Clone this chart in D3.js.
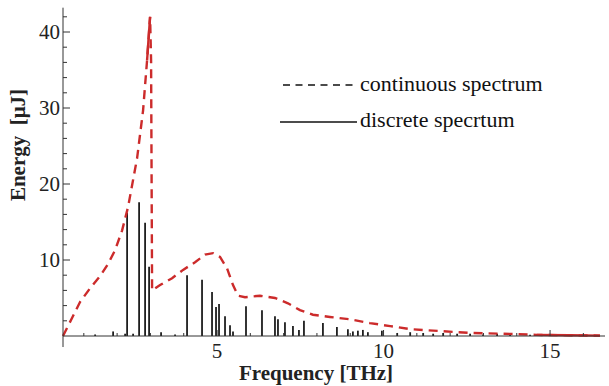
<!DOCTYPE html>
<html><head><meta charset="utf-8">
<script src="https://cdn.jsdelivr.net/npm/d3@7"></script>
<style>html,body{margin:0;padding:0;background:#fff;}svg{display:block;}</style>
</head><body>
<svg id="c" width="609" height="386"></svg>
<script>
// continuous spectrum (frequency THz, energy µJ)
const contFreq = [0.375,0.65,0.89,1.19,1.49,1.73,1.94,2.15,2.33,2.60,2.78,2.90,2.99,3.02,3.05,3.29,3.65,3.98,4.34,4.64,4.88,5.09,5.30,5.48,5.63,5.84,6.29,6.74,7.13,7.49,7.88,8.39,8.99,9.59,10.2,10.8,11.7,12.6,13.6,14.6,15.6,16.5];
const contEnergy = [0,2.4,4.5,6.3,7.9,9.5,11.3,13.9,17.0,23.4,29.7,36.3,42.0,36.3,6.0,6.7,7.6,8.7,9.7,10.7,10.9,10.4,8.9,6.7,5.3,5.1,5.3,5.0,4.3,3.4,2.8,2.5,2.2,1.7,1.3,0.9,0.65,0.4,0.3,0.15,0.1,0.05];
// discrete spectrum
const discFreq = [1.34,1.88,2.24,2.30,2.48,2.66,2.84,2.96,3.32,3.74,4.10,4.55,4.85,4.97,5.06,5.24,5.39,5.48,5.87,6.35,6.74,6.83,7.04,7.28,7.46,7.61,8.18,8.60,8.93,9.08,9.23,9.38,9.53,9.95,10.41,10.80,11.19,11.49,11.79,12.21,12.60,12.99,13.41,13.80,14.40,15.00,15.90];
const discEnergy = [0.2,0.6,0.3,16.2,0.3,17.6,14.9,9.1,0.5,0.2,8.0,7.4,5.8,3.8,4.2,2.6,1.4,0.6,3.9,3.4,2.6,2.2,1.8,1.3,0.8,2.0,1.7,1.2,0.9,0.6,0.7,0.8,0.5,0.7,0.4,0.5,0.4,0.3,0.4,0.3,0.3,0.2,0.3,0.2,0.15,0.2,0.1];
const xTicks = [5,10,15];
const yTicks = [10,20,30,40];
const legendLabels = ["continuous spectrum","discrete specrtum"];
const xLabel = "Frequency [THz]";
const yLabel = "Energy\u00a0 [\u03bcJ]";

const svg = d3.select("#c");
const x = d3.scaleLinear().domain([0.375,16.65]).range([63,605]);
const y = d3.scaleLinear().domain([0,40]).range([336,32]);
const red = "#cc2b2b";
const serif = "'Liberation Serif','Times New Roman',serif";

// discrete bars
svg.append("g").selectAll("line").data(discFreq).join("line")
  .attr("x1",d=>x(d)).attr("x2",d=>x(d))
  .attr("y1",y(0)).attr("y2",(d,i)=>y(discEnergy[i]))
  .attr("stroke","#1e1e1e").attr("stroke-width",1.8);

// continuous curve
const pts = contFreq.map((f,i)=>[f,contEnergy[i]]);
const line = d3.line().x(d=>x(d[0])).y(d=>y(d[1]));
svg.append("path").attr("d",line(pts)).attr("fill","none")
  .attr("stroke",red).attr("stroke-width",2.4).attr("stroke-dasharray","9,6");
// solid-looking parts (peak tip and tail)
svg.append("path").attr("d",line(pts.filter(p=>p[0]>=2.9 && p[0]<=2.99))).attr("fill","none")
  .attr("stroke",red).attr("stroke-width",2.4);
svg.append("path").attr("d",line(pts.filter(p=>p[0]>=14.6))).attr("fill","none")
  .attr("stroke",red).attr("stroke-width",2.4);

// axes
const ax = svg.append("g").attr("stroke","#333").attr("stroke-width",1);
ax.append("line").attr("x1",63).attr("x2",605).attr("y1",y(0)).attr("y2",y(0));
ax.append("line").attr("x1",63).attr("x2",63).attr("y1",y(-1.45)).attr("y2",y(43.2));
// y ticks
d3.range(2,44,2).forEach(v=>{
  const major = v%10===0;
  ax.append("line").attr("x1",63).attr("x2",63+(major?7:4)).attr("y1",y(v)).attr("y2",y(v));
});
// x ticks
d3.range(1,17,1).forEach(v=>{
  const major = v%5===0;
  ax.append("line").attr("x1",x(v)).attr("x2",x(v)).attr("y1",y(0)).attr("y2",y(0)-(major?6:3));
});

svg.append("g").selectAll("text").data(yTicks).join("text")
  .attr("x",60).attr("y",d=>y(d)).attr("dy","0.35em").attr("text-anchor","end")
  .attr("font-family",serif).attr("font-size",21).attr("fill","#222").text(d=>d);
svg.append("g").selectAll("text").data(xTicks).join("text")
  .attr("x",d=>x(d)).attr("y",358).attr("text-anchor","middle")
  .attr("font-family",serif).attr("font-size",21).attr("fill","#222").text(d=>d);

svg.append("text").attr("x",316).attr("y",380).attr("text-anchor","middle")
  .attr("font-family",serif).attr("font-size",21).attr("font-weight","bold").attr("fill","#222").text(xLabel);
svg.append("text").attr("transform","translate(25,145) rotate(-90)").attr("text-anchor","middle")
  .attr("font-family",serif).attr("font-size",21).attr("font-weight","bold").attr("fill","#222").text(yLabel);

// legend
svg.append("line").attr("x1",283).attr("x2",357).attr("y1",85).attr("y2",85)
  .attr("stroke","#111").attr("stroke-width",1.5).attr("stroke-dasharray","7,5.5");
svg.append("line").attr("x1",280).attr("x2",357).attr("y1",122).attr("y2",122)
  .attr("stroke","#111").attr("stroke-width",1.5);
svg.append("text").attr("x",360).attr("y",91).attr("font-family",serif).attr("font-size",22).attr("fill","#111").text(legendLabels[0]);
svg.append("text").attr("x",360).attr("y",127).attr("font-family",serif).attr("font-size",22).attr("fill","#111").text(legendLabels[1]);
</script>
</body></html>
